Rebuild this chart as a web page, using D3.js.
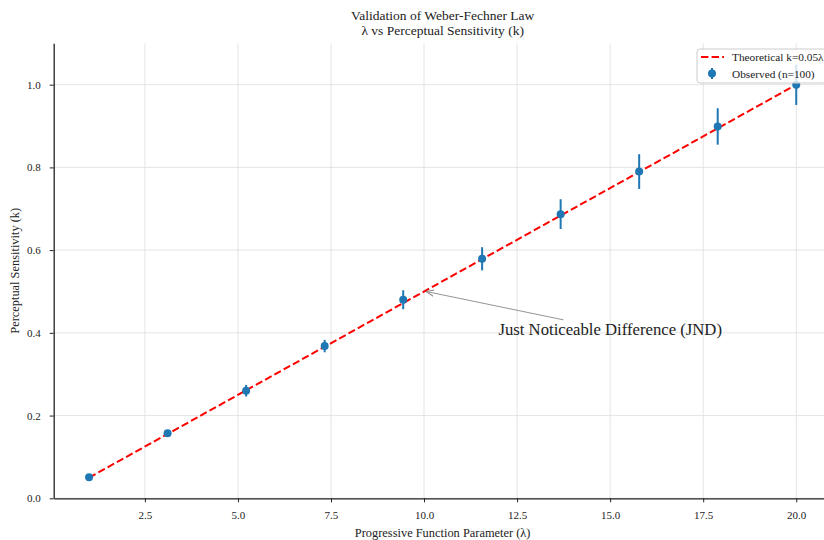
<!DOCTYPE html>
<html>
  <head>
    <title>Validation of Weber-Fechner Law</title>
    <script src="https://d3js.org/d3.v7.min.js"></script>
    <style>
      body { margin: 0; background: white; }
      svg, svg text { font-family: "Liberation Serif", "Times New Roman", serif; }
      .axis path, .axis line { stroke: #222; }
      .axis text { font-size: 11px; fill: #222; }
      .grid line { stroke: #ddd; stroke-width: 0.8; }
    </style>
  </head>
  <body>
    <script>
      // data
      var lambdas = [1.00, 3.11, 5.22, 7.33, 9.44, 11.56, 13.67, 15.78, 17.89, 20.00];
      var observed = [0.051, 0.157, 0.260, 0.368, 0.480, 0.579, 0.687, 0.790, 0.899, 1.000];
      var errors = [0.003, 0.008, 0.014, 0.015, 0.023, 0.028, 0.036, 0.042, 0.044, 0.049];
      var xTicks = [2.5, 5.0, 7.5, 10.0, 12.5, 15.0, 17.5, 20.0];
      var yTicks = [0.0, 0.2, 0.4, 0.6, 0.8, 1.0];
      var slope = 0.05;

      var width = 824;
      var height = 540;
      var margin = {top: 43.3, left: 53.7, bottom: 498.3};

      var svg = d3.select("body")
        .append("svg")
        .attr("width", width)
        .attr("height", height);

      var xScale = d3.scaleLinear()
        .domain([0.05, 20.95])
        .range([margin.left, 831.6]);

      var yScale = d3.scaleLinear()
        .domain([0, 1.1])
        .range([margin.bottom, margin.top]);

      var midX = (xScale.range()[0] + xScale.range()[1]) / 2;

      // grid
      svg.append("g")
        .attr("class", "grid")
        .selectAll("line.gx")
        .data(xTicks)
        .enter()
        .append("line")
          .attr("x1", function(d){ return xScale(d); })
          .attr("x2", function(d){ return xScale(d); })
          .attr("y1", margin.top)
          .attr("y2", margin.bottom);

      svg.append("g")
        .attr("class", "grid")
        .selectAll("line.gy")
        .data(yTicks)
        .enter()
        .append("line")
          .attr("x1", margin.left)
          .attr("x2", width)
          .attr("y1", function(d){ return yScale(d); })
          .attr("y2", function(d){ return yScale(d); });

      // axes
      var xAxis = svg.append("g")
        .attr("class", "axis")
        .attr("transform", `translate(0,${margin.bottom})`)
        .call(d3.axisBottom(xScale).tickValues(xTicks).tickFormat(d3.format(".1f")).tickSize(4).tickPadding(9).tickSizeOuter(0));

      var yAxis = svg.append("g")
        .attr("class", "axis")
        .attr("transform", `translate(${margin.left},0)`)
        .call(d3.axisLeft(yScale).tickValues(yTicks).tickFormat(d3.format(".1f")).tickSize(4).tickPadding(9).tickSizeOuter(0));

      svg.selectAll(".axis").attr("font-family", null).attr("font-size", null);
      svg.selectAll(".axis path").attr("stroke-width", 1.3);

      // theoretical line
      var line = d3.line()
        .x(function(d){ return xScale(d); })
        .y(function(d){ return yScale(slope * d); });

      svg.append("path")
        .datum([lambdas[0], lambdas[lambdas.length - 1]])
        .attr("d", line)
        .attr("fill", "none")
        .attr("stroke", "#ff0000")
        .attr("stroke-width", 2)
        .attr("stroke-dasharray", "7.4,3.2");

      // observed with error bars
      var obs = lambdas.map(function(l, i){ return {x: l, y: observed[i], e: errors[i]}; });

      svg.selectAll("line.err")
        .data(obs)
        .enter()
        .append("line")
          .attr("class", "err")
          .attr("x1", function(d){ return xScale(d.x); })
          .attr("x2", function(d){ return xScale(d.x); })
          .attr("y1", function(d){ return yScale(d.y - d.e); })
          .attr("y2", function(d){ return yScale(d.y + d.e); })
          .attr("stroke", "#1f77b4")
          .attr("stroke-width", 2);

      svg.selectAll("circle.pt")
        .data(obs)
        .enter()
        .append("circle")
          .attr("class", "pt")
          .attr("cx", function(d){ return xScale(d.x); })
          .attr("cy", function(d){ return yScale(d.y); })
          .attr("r", 4)
          .attr("fill", "#1f77b4");

      // annotation
      var defs = svg.append("defs");
      defs.append("marker")
        .attr("id", "arrow")
        .attr("viewBox", "0 0 10 10")
        .attr("refX", 10)
        .attr("refY", 5)
        .attr("markerWidth", 8)
        .attr("markerHeight", 8)
        .attr("markerUnits", "userSpaceOnUse")
        .attr("orient", "auto")
        .append("path")
          .attr("d", "M0,1 L10,5 L0,9")
          .attr("fill", "none")
          .attr("stroke", "#888")
          .attr("stroke-width", 1.2);

      var ann = svg.append("text")
        .attr("x", xScale(12))
        .attr("y", yScale(0.4) + 2)
        .attr("font-size", "16.7px")
        .attr("fill", "#222")
        .text("Just Noticeable Difference (JND)");

      var bb = ann.node().getBBox();
      var cx = bb.x + bb.width / 2, cy = bb.y + bb.height / 2;
      var tx = xScale(10), ty = yScale(0.5);
      var t = (cy - bb.y) / (cy - ty);
      svg.append("line")
        .attr("x1", cx + (tx - cx) * t)
        .attr("y1", bb.y)
        .attr("x2", tx + 2)
        .attr("y2", ty)
        .attr("stroke", "#888")
        .attr("stroke-width", 0.9)
        .attr("marker-end", "url(#arrow)");

      // titles
      svg.append("text")
        .attr("x", midX).attr("y", 20)
        .attr("text-anchor", "middle")
        .attr("font-size", "13.5px")
        .attr("fill", "#222")
        .text("Validation of Weber-Fechner Law");
      svg.append("text")
        .attr("x", midX).attr("y", 35)
        .attr("text-anchor", "middle")
        .attr("font-size", "13.5px")
        .attr("fill", "#222")
        .text("λ vs Perceptual Sensitivity (k)");

      svg.append("text")
        .attr("x", midX).attr("y", 537)
        .attr("text-anchor", "middle")
        .attr("font-size", "12.4px")
        .attr("fill", "#222")
        .text("Progressive Function Parameter (λ)");

      svg.append("text")
        .attr("transform", "rotate(-90)")
        .attr("x", -(margin.top + margin.bottom) / 2)
        .attr("y", 19)
        .attr("text-anchor", "middle")
        .attr("font-size", "12.4px")
        .attr("fill", "#222")
        .text("Perceptual Sensitivity (k)");

      // legend
      var legend = svg.append("g");
      legend.append("rect")
        .attr("x", 697).attr("y", 49)
        .attr("width", 134).attr("height", 34)
        .attr("rx", 3)
        .attr("fill", "white").attr("fill-opacity", 0.8)
        .attr("stroke", "#ccc");
      legend.append("line")
        .attr("x1", 701).attr("x2", 724)
        .attr("y1", 57).attr("y2", 57)
        .attr("stroke", "#ff0000").attr("stroke-width", 2)
        .attr("stroke-dasharray", "7.4,3.2");
      legend.append("line")
        .attr("x1", 712).attr("x2", 712)
        .attr("y1", 68).attr("y2", 79)
        .attr("stroke", "#1f77b4").attr("stroke-width", 2);
      legend.append("circle")
        .attr("cx", 712).attr("cy", 73.5).attr("r", 4)
        .attr("fill", "#1f77b4");
      legend.append("text")
        .attr("x", 732).attr("y", 61)
        .attr("font-size", "11.3px").attr("fill", "#222")
        .text("Theoretical k=0.05λ");
      legend.append("text")
        .attr("x", 732).attr("y", 77.5)
        .attr("font-size", "11.3px").attr("fill", "#222")
        .text("Observed (n=100)");
    </script>
  </body>
</html>
